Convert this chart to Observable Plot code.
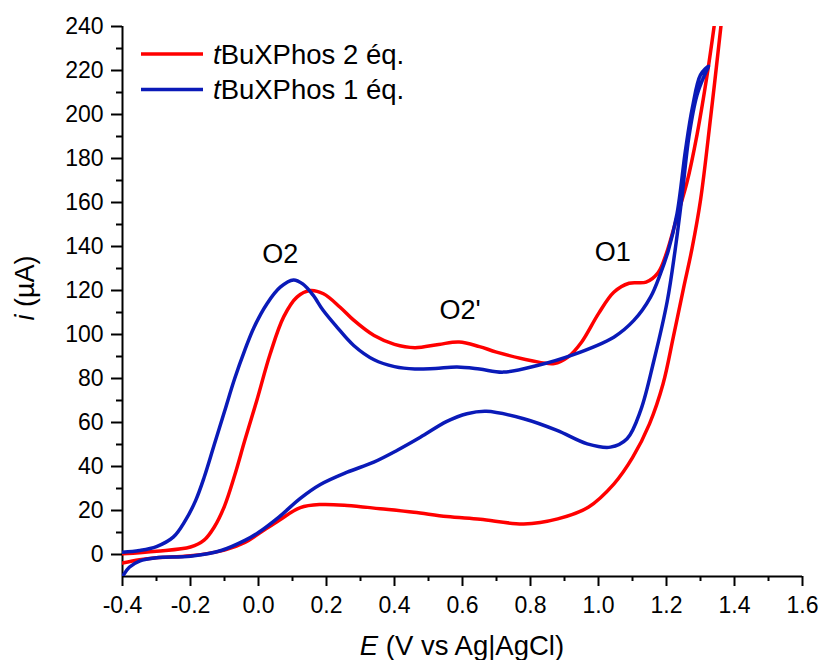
<!DOCTYPE html>
<html><head><meta charset="utf-8">
<script src="https://cdn.jsdelivr.net/npm/d3@7"></script>
<script src="https://cdn.jsdelivr.net/npm/@observablehq/plot@0.6"></script>
<style>
body{margin:0;background:#fff}
#chart{position:relative;width:821px;height:660px}
</style>
</head><body><div id="chart"></div>
<script>
// ---- data: [E (V vs Ag|AgCl), i (µA)] ----
const red2eqLower = [[-0.40,-3.9],[-0.35,-2.4],[-0.30,-1.5],[-0.20,-0.6],[-0.10,2.0],[-0.04,5.5],[0.00,9.4],[0.06,15.5],[0.123,21.3],[0.182,22.7],[0.261,22.3],[0.358,20.8],[0.457,19.2],[0.554,17.3],[0.652,16.0],[0.78,13.9],[0.88,16.2],[0.97,21.5],[1.045,32],[1.10,44],[1.15,59.4],[1.19,77.6],[1.22,98.8],[1.25,121],[1.275,139],[1.30,161],[1.33,199],[1.36,240],[1.37,255]];
const red2eqVertex = [[1.362,262]];
const red2eqUpper = [[-0.40,0.3],[-0.30,1.5],[-0.20,3.4],[-0.16,6.5],[-0.13,12.5],[-0.10,22],[-0.07,36],[-0.04,52],[-0.005,70],[0.034,91],[0.074,108],[0.113,117],[0.152,120],[0.191,118.5],[0.24,112.4],[0.28,106.5],[0.34,99.5],[0.40,95.5],[0.46,94],[0.53,95.5],[0.59,96.6],[0.65,94.5],[0.70,92],[0.80,88.2],[0.87,86.8],[0.91,89.7],[0.95,96.5],[1.00,109.5],[1.045,119.2],[1.09,123.3],[1.14,123.8],[1.175,128],[1.20,137],[1.23,153],[1.26,169],[1.29,191],[1.32,218.5],[1.34,240],[1.35,252]];

const blue1eqLower = [[-0.40,-10],[-0.38,-5.8],[-0.35,-3],[-0.30,-1.5],[-0.20,-0.8],[-0.11,1.8],[-0.04,6.4],[0.00,10],[0.06,17],[0.123,25.5],[0.182,31.8],[0.261,37.4],[0.339,42],[0.407,47.3],[0.476,53.3],[0.554,60.5],[0.613,64],[0.67,65.1],[0.78,61.7],[0.878,56.4],[0.967,50.3],[1.035,48.8],[1.084,52.6],[1.124,65.5],[1.163,88.2],[1.202,115],[1.225,138],[1.245,162],[1.266,190],[1.29,209],[1.315,219],[1.324,222]];
const blue1eqUpper = [[-0.40,1.0],[-0.35,1.8],[-0.30,3.6],[-0.25,8],[-0.215,15.5],[-0.185,24.5],[-0.16,35],[-0.13,50],[-0.10,65],[-0.07,80],[-0.04,93],[-0.014,103],[0.025,114],[0.064,121.5],[0.103,124.8],[0.13,123],[0.16,118],[0.19,111],[0.23,103.5],[0.28,95],[0.34,88.5],[0.40,85.4],[0.46,84.3],[0.52,84.6],[0.584,85.2],[0.65,84.3],[0.72,82.9],[0.82,85.9],[0.92,90.5],[1.045,98.8],[1.104,106.4],[1.153,117],[1.182,127.6],[1.205,138],[1.231,155],[1.256,184],[1.276,203],[1.30,218],[1.324,222]];

const seriesNames = ["tBuXPhos 2 éq.", "tBuXPhos 1 éq."];
const seriesColors = ["#ff0000", "#0a1ab8"];

const peakLabels = [
  {E: 0.064, i: 136.4, text: "O2"},
  {E: 0.593, i: 110.9, text: "O2'"},
  {E: 1.042, i: 137.5, text: "O1"}
];

const xTicks = [-0.4,-0.2,0.0,0.2,0.4,0.6,0.8,1.0,1.2,1.4,1.6];
const xMinorTicks = [-0.3,-0.1,0.1,0.3,0.5,0.7,0.9,1.1,1.3,1.5];
const yTicks = [0,20,40,60,80,100,120,140,160,180,200,220,240];
const yMinorTicks = [10,30,50,70,90,110,130,150,170,190,210,230];
const xDomain = [-0.4, 1.6];
const yDomain = [-10, 240];

// build the scan loops (forward branch, vertex, reverse branch)
const redPath = red2eqLower.concat(red2eqVertex, red2eqUpper.slice().reverse());
const bluePath = blue1eqLower.concat(blue1eqUpper.slice(0, -1).reverse());

const font = "'Liberation Sans', Arial, Helvetica, sans-serif";

const svg = Plot.plot({
  width: 821,
  height: 660,
  marginLeft: 122,
  marginRight: 19,
  marginTop: 26,
  marginBottom: 84,
  style: {fontFamily: font, fontSize: "23px", color: "black", background: "white", overflow: "visible"},
  x: {domain: xDomain},
  y: {domain: yDomain},
  marks: [
    Plot.axisX({ticks: xMinorTicks, tickSize: 5, strokeWidth: 2, tickFormat: () => "", label: null}),
    Plot.axisX({ticks: xTicks, tickSize: 10, tickPadding: 10, strokeWidth: 2, tickFormat: d => d.toFixed(1), label: null}),
    Plot.axisY({ticks: yMinorTicks, tickSize: 6, strokeWidth: 2, tickFormat: () => "", label: null}),
    Plot.axisY({ticks: yTicks, tickSize: 11, tickPadding: 8, strokeWidth: 2, tickFormat: d => String(d), label: null}),
    Plot.ruleY([yDomain[0]], {stroke: "black", strokeWidth: 2}),
    Plot.ruleX([xDomain[0]], {stroke: "black", strokeWidth: 2}),
    Plot.line(redPath, {x: d => d[0], y: d => d[1], stroke: seriesColors[0], strokeWidth: 3.5, curve: "catmull-rom", clip: true}),
    Plot.line(bluePath, {x: d => d[0], y: d => d[1], stroke: seriesColors[1], strokeWidth: 3.5, curve: "catmull-rom", clip: true}),
    Plot.text(peakLabels, {x: "E", y: "i", text: "text", fontSize: 27, fill: "black"})
  ]
});

const s = d3.select(svg);
// axis titles
const xt = s.append("text").attr("x", 462).attr("y", 655).attr("text-anchor", "middle")
  .attr("font-size", 27.5).attr("font-family", font).attr("fill", "black");
xt.append("tspan").attr("font-style", "italic").text("E");
xt.append("tspan").text(" (V vs Ag|AgCl)");

const yt = s.append("text").attr("transform", "translate(34,288) rotate(-90)").attr("text-anchor", "middle")
  .attr("font-size", 27).attr("font-family", font).attr("fill", "black");
yt.append("tspan").attr("font-style", "italic").text("i");
yt.append("tspan").text(" (µA)");

// legend
seriesNames.forEach((name, k) => {
  const cy = 54 + k * 35.5;
  s.append("line").attr("x1", 141).attr("x2", 203).attr("y1", cy).attr("y2", cy)
    .attr("stroke", seriesColors[k]).attr("stroke-width", 3.5);
  const t = s.append("text").attr("x", 213).attr("y", cy).attr("dy", "0.35em").attr("text-anchor", "start")
    .attr("font-size", 27.5).attr("font-family", font).attr("fill", "black");
  t.append("tspan").attr("font-style", "italic").text(name.slice(0, 1));
  t.append("tspan").text(name.slice(1));
});

document.getElementById("chart").appendChild(svg);
</script></body></html>
